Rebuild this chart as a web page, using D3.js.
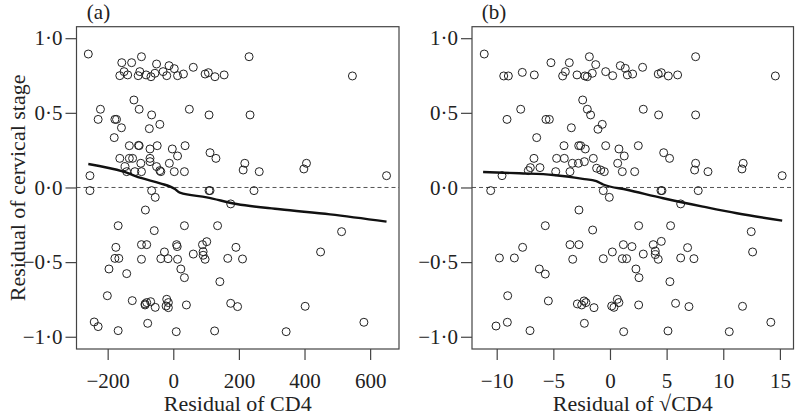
<!DOCTYPE html>
<html>
<head>
<meta charset="utf-8">
<script src="https://cdn.jsdelivr.net/npm/d3@7"></script>
<style>
  html, body { margin: 0; padding: 0; background: #fff; }
  svg { display: block; }
  text { font-family: "Liberation Serif", "Times New Roman", serif; fill: #222; }
</style>
</head>
<body>
<svg id="chart" width="795" height="415"></svg>
<script>
// ---- Data ----
const panelLabels = ["(a)", "(b)"];
const yTitle = "Residual of cervical stage";
const xTitles = ["Residual of CD4", "Residual of \u221ACD4"];
const yTicks = [-1, -0.5, 0, 0.5, 1];
const xTicksA = [-200, 0, 200, 400, 600];
const xTicksB = [-10, -5, 0, 5, 10, 15];

// Panel (a): [residual of CD4, residual of cervical stage]
const pointsA = [
  [-259,0.894],[231,0.876],[-97,0.876],[-157,0.836],[-127,0.836],[-51,0.827],[-13,0.816],[3,0.796],[61,0.805],
  [-150,0.776],[-102,0.776],[-31,0.776],[-163,0.749],[-139,0.754],[-107,0.749],[-83,0.754],[-68,0.742],[-56,0.765],
  [-20,0.749],[13,0.749],[31,0.760],[97,0.760],[107,0.769],[127,0.742],[155,0.754],[546,0.747],
  [-120,0.586],[-222,0.524],[-104,0.524],[49,0.524],[-229,0.456],[-178,0.456],[-173,0.456],[-66,0.486],[109,0.486],
  [234,0.486],[-158,0.400],[-73,0.394],[-41,0.423],[-180,0.334],[-134,0.280],[-104,0.280],[-106,0.282],[-49,0.280],
  [-71,0.258],[-3,0.258],[36,0.280],[13,0.211],[112,0.233],[130,0.195],[-163,0.195],[-134,0.195],[-124,0.195],
  [-71,0.195],[-99,0.162],[-71,0.173],[-12,0.162],[218,0.162],[213,0.117],[262,0.106],[406,0.162],[398,0.124],
  [-147,0.140],[-142,0.106],[-117,0.106],[-97,0.106],[-51,0.140],[-41,0.113],[-38,0.106],[3,0.106],[34,0.106],
  [-254,0.079],[650,0.079],
  [-254,-0.021],[-66,-0.021],[109,-0.021],[112,-0.021],[246,-0.021],[-55,-0.066],[175,-0.110],[-85,-0.151],
  [-168,-0.256],[34,-0.256],[135,-0.256],[-58,-0.289],[513,-0.296],[-175,-0.401],[-97,-0.383],[-81,-0.383],
  [10,-0.383],[12,-0.396],[102,-0.363],[89,-0.383],[191,-0.401],[449,-0.432],[-27,-0.432],[61,-0.446],[91,-0.430],
  [91,-0.454],[-178,-0.475],[-166,-0.475],[-97,-0.481],[-38,-0.477],[-16,-0.477],[13,-0.481],[97,-0.481],
  [166,-0.475],[211,-0.479],[-196,-0.546],[-142,-0.577],[23,-0.546],[34,-0.604],[142,-0.631],[-201,-0.725],
  [-125,-0.758],[-86,-0.780],[-81,-0.771],[-69,-0.765],[-86,-0.787],[-55,-0.803],[-20,-0.749],[-15,-0.771],
  [-22,-0.794],[-15,-0.805],[40,-0.787],[175,-0.776],[196,-0.798],[402,-0.796],[-241,-0.901],[-229,-0.932],
  [-168,-0.959],[-78,-0.910],[9,-0.966],[126,-0.961],[344,-0.966],[581,-0.903]
];

// Panel (b): [residual of sqrt(CD4), residual of cervical stage]
const pointsB = [
  [-11.1,0.894],[-1.82,0.876],[7.56,0.876],[-5.21,0.836],[-3.59,0.836],[-1.26,0.823],[0.91,0.816],[1.35,0.798],
  [2.88,0.805],[-7.74,0.771],[-3.94,0.776],[-1.56,0.765],[-0.38,0.776],[2.0,0.760],[4.53,0.769],[-9.38,0.747],
  [-8.97,0.747],[-6.68,0.754],[-4.18,0.747],[-2.91,0.754],[-2.21,0.747],[-2.0,0.742],[0.24,0.749],[1.53,0.754],
  [4.26,0.760],[5.15,0.747],[5.97,0.754],[14.6,0.747],
  [-2.41,0.586],[-7.88,0.524],[-2.0,0.524],[2.94,0.524],[-1.71,0.486],[4.29,0.486],[7.56,0.486],[-9.09,0.456],
  [-5.65,0.456],[-5.35,0.456],[-3.41,0.400],[-0.68,0.423],[-1.06,0.390],[-6.47,0.334],[-4.06,0.280],[-2.76,0.280],
  [-2.59,0.280],[-0.38,0.280],[-2.18,0.258],[0.79,0.258],[2.5,0.280],[1.26,0.211],[4.74,0.233],[5.26,0.195],
  [-6.71,0.195],[-4.71,0.195],[-4.03,0.195],[-1.47,0.195],[-3.32,0.162],[-2.79,0.162],[-2.26,0.173],[0.68,0.162],
  [7.56,0.162],[11.76,0.162],[7.47,0.117],[11.65,0.124],[-7.03,0.133],[-7.21,0.113],[-6.18,0.133],[-4.79,0.106],
  [-3.53,0.106],[-1.18,0.129],[-0.82,0.117],[-0.5,0.106],[1.09,0.106],[2.18,0.106],[8.65,0.106],[-9.53,0.079],
  [15.2,0.079],
  [-10.53,-0.021],[-0.59,-0.021],[4.5,-0.021],[4.59,-0.021],[7.79,-0.021],[-0.06,-0.066],[6.24,-0.110],
  [-2.74,-0.151],[-5.71,-0.256],[2.53,-0.256],[5.35,-0.256],[-1.53,-0.285],[12.47,-0.296],[-7.71,-0.401],
  [-3.53,-0.383],[-2.74,-0.383],[1.18,-0.383],[1.94,-0.396],[4.53,-0.361],[3.82,-0.383],[6.85,-0.403],
  [12.59,-0.432],[0.21,-0.432],[2.94,-0.446],[4.0,-0.426],[4.0,-0.450],[-9.76,-0.472],[-8.44,-0.472],
  [-3.29,-0.481],[-0.59,-0.477],[1.09,-0.477],[1.47,-0.477],[4.26,-0.481],[6.24,-0.472],[7.41,-0.477],
  [-6.24,-0.546],[-5.71,-0.580],[2.29,-0.546],[2.56,-0.604],[5.29,-0.631],[-9.03,-0.725],[-5.44,-0.760],
  [-2.88,-0.780],[-2.5,-0.787],[-2.29,-0.760],[-2.12,-0.771],[-1.41,-0.805],[0.65,-0.749],[0.79,-0.771],
  [0.15,-0.794],[0.35,-0.803],[2.53,-0.787],[5.79,-0.776],[6.97,-0.798],[11.7,-0.796],[-10.06,-0.928],
  [-9.06,-0.903],[-7.06,-0.959],[-2.26,-0.910],[1.21,-0.966],[5.12,-0.961],[10.53,-0.966],[14.2,-0.903]
];

// Smoothed fits
const smoothA = [[-259,0.157],[-152,0.106],[-96,0.062],[-40,0.028],[5,-0.01],[20,-0.035],[102,-0.066],[193,-0.111],[325,-0.146],[478,-0.18],[650,-0.229]];
const smoothB = [[-11.2,0.104],[-8,0.095],[-5,0.084],[-2.4,0.058],[-1.2,0.042],[-0.6,0.02],[1.5,-0.015],[4.7,-0.072],[8.2,-0.128],[11.2,-0.173],[15.2,-0.222]];

const xDomainA = [-295, 688];
const xDomainB = [-12.18, 16.2];
const yDomain = [-1.082, 1.077];

// ---- Drawing ----
(function () {
  const svg = d3.select("#chart");
  const fmt = v => d3.format(".1f")(v).replace(".", "\u00B7").replace("-", "\u2212");
  const fmtX = v => String(v).replace("-", "\u2212");

  const plotTop = 26.7, plotBottom = 349;
  const panels = [
    { x0: 76.5, x1: 399, domain: xDomainA, ticks: xTicksA, pts: pointsA, smooth: smoothA, label: panelLabels[0], title: xTitles[0] },
    { x0: 472, x1: 793.5, domain: xDomainB, ticks: xTicksB, pts: pointsB, smooth: smoothB, label: panelLabels[1], title: xTitles[1] }
  ];

  const y = d3.scaleLinear().domain(yDomain).range([plotBottom, plotTop]);

  panels.forEach(p => {
    const x = d3.scaleLinear().domain(p.domain).range([p.x0, p.x1]);
    const g = svg.append("g");

    g.append("line")
      .attr("x1", p.x0).attr("x2", p.x1)
      .attr("y1", y(0)).attr("y2", y(0))
      .attr("stroke", "#555").attr("stroke-width", 1)
      .attr("stroke-dasharray", "4,3");

    g.selectAll("circle").data(p.pts).enter().append("circle")
      .attr("cx", d => x(d[0])).attr("cy", d => y(d[1]))
      .attr("r", 4)
      .attr("fill", "none").attr("stroke", "#222").attr("stroke-width", 1);

    g.append("path").datum(p.smooth)
      .attr("d", d3.line().x(d => x(d[0])).y(d => y(d[1])).curve(d3.curveMonotoneX))
      .attr("fill", "none").attr("stroke", "#111").attr("stroke-width", 2.4);

    g.append("rect")
      .attr("x", p.x0).attr("y", plotTop)
      .attr("width", p.x1 - p.x0).attr("height", plotBottom - plotTop)
      .attr("fill", "none").attr("stroke", "#444").attr("stroke-width", 1.2);

    const ya = g.append("g").attr("transform", `translate(${p.x0},0)`)
      .call(d3.axisLeft(y).tickValues(yTicks).tickSize(11).tickPadding(3).tickFormat(fmt));
    ya.select(".domain").remove();
    ya.selectAll("line").attr("stroke", "#444").attr("stroke-width", 1.2);
    ya.selectAll("text").attr("font-size", 21).attr("fill", "#222")
      .style("font-family", "'Liberation Serif', serif");

    const xa = g.append("g").attr("transform", `translate(0,${plotBottom})`)
      .call(d3.axisBottom(x).tickValues(p.ticks).tickSize(11).tickPadding(13).tickFormat(fmtX));
    xa.select(".domain").remove();
    xa.selectAll("line").attr("stroke", "#444").attr("stroke-width", 1.2);
    xa.selectAll("text").attr("font-size", 21).attr("fill", "#222")
      .style("font-family", "'Liberation Serif', serif");

    g.append("text")
      .attr("x", (p.x0 + p.x1) / 2).attr("y", 411)
      .attr("text-anchor", "middle").attr("font-size", 22)
      .text(p.title);

    g.append("text")
      .attr("x", p.x0 + 22).attr("y", 19)
      .attr("text-anchor", "middle").attr("font-size", 21)
      .text(p.label);
  });

  svg.append("text")
    .attr("transform", `translate(25,${(plotTop + plotBottom) / 2}) rotate(-90)`)
    .attr("text-anchor", "middle").attr("font-size", 22)
    .text(yTitle);
})();
</script>
</body>
</html>
